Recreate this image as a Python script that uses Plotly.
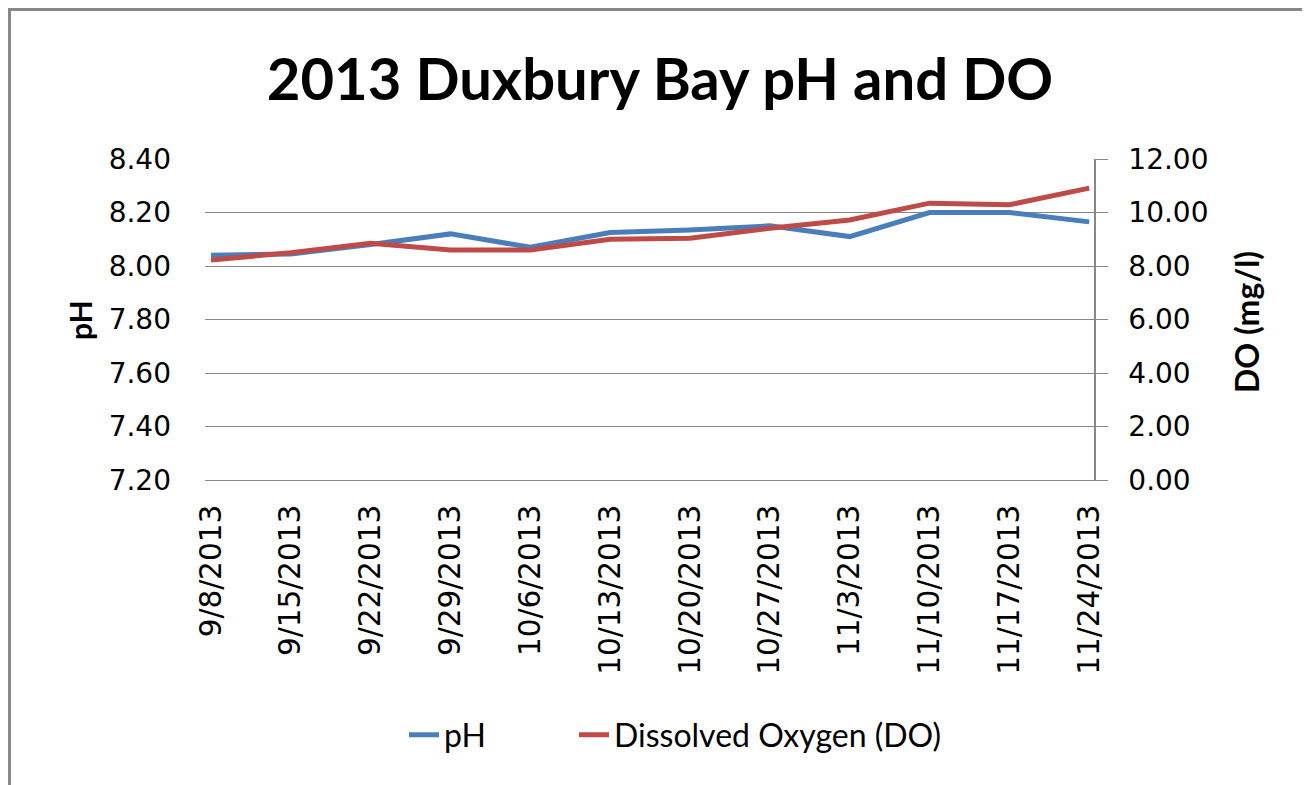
import plotly.graph_objects as go

dates = ["9/8/2013", "9/15/2013", "9/22/2013", "9/29/2013", "10/6/2013", "10/13/2013",
         "10/20/2013", "10/27/2013", "11/3/2013", "11/10/2013", "11/17/2013", "11/24/2013"]
ph_values = [8.04, 8.045, 8.08, 8.12, 8.07, 8.125, 8.135, 8.15, 8.11, 8.20, 8.20, 8.165]
do_values = [8.22, 8.50, 8.85, 8.60, 8.60, 9.00, 9.04, 9.41, 9.72, 10.35, 10.29, 10.91]

title_text = "2013 Duxbury Bay pH and DO"
ph_ticks = [7.2, 7.4, 7.6, 7.8, 8.0, 8.2, 8.4]
do_ticks = [0, 2, 4, 6, 8, 10, 12]

OFF = 8  # browser body margin
W, H = 1302, 777
L, R, T, B = 197, 216, 151, 305
pw, ph_ = W - L - R, H - T - B

def px(x):  # screen px -> paper
    return (x - OFF - L) / pw

def py(y):
    return (H - B - (y - OFF)) / ph_

grid = "#878787"
tickfont = dict(family="DejaVu Sans", size=28, color="#000000")
xtickfont = dict(family="DejaVu Sans", size=29.5, color="#000000")
legfont = dict(family="Lato", size=32, color="#000000")

fig = go.Figure()
fig.add_trace(go.Scatter(x=dates, y=ph_values, name="pH", mode="lines",
                         line=dict(color="#4A7EBB", width=5), legend="legend"))
fig.add_trace(go.Scatter(x=dates, y=do_values, name="Dissolved Oxygen (DO)", mode="lines",
                         line=dict(color="#BE4B48", width=5), yaxis="y2", legend="legend2"))

fig.update_layout(
    width=W, height=H,
    margin=dict(l=L, r=R, t=T, b=B),
    paper_bgcolor="white", plot_bgcolor="white",
    title=dict(text="<b>" + title_text + "</b>", x=(660 - OFF) / W, xanchor="center",
               y=1 - (80 - OFF) / H, yanchor="middle", yref="container",
               font=dict(family="Lato", size=58, color="#000000")),
    xaxis=dict(type="category", range=[-0.075, 11.06], tickangle=-90,
               tickfont=xtickfont, showgrid=False, showline=True, linecolor=grid,
               linewidth=1, ticks="", ticklabelstandoff=12, zeroline=False),
    yaxis=dict(range=[7.2, 8.4], tickvals=ph_ticks, tickformat=".2f",
               tickfont=tickfont, showgrid=True, gridcolor=grid, gridwidth=1,
               showline=False, ticks="", ticklabelstandoff=33, zeroline=False),
    yaxis2=dict(range=[0, 12], tickvals=do_ticks, tickformat=".2f", overlaying="y",
                side="right", tickfont=tickfont, showgrid=False, showline=True,
                linecolor=grid, linewidth=1.5, ticks="outside", ticklen=12,
                tickcolor=grid, ticklabelstandoff=15, zeroline=False),
    legend=dict(orientation="h", x=px(404), xanchor="left", y=py(735), yanchor="middle",
                font=legfont, bgcolor="rgba(0,0,0,0)"),
    legend2=dict(orientation="h", x=px(574), xanchor="left", y=py(735), yanchor="middle",
                 font=legfont, bgcolor="rgba(0,0,0,0)"),
    showlegend=True,
)

fig.add_annotation(text="<b>pH</b>", textangle=-90, xref="paper", yref="paper",
                   x=px(80), y=py(320), showarrow=False, xanchor="center", yanchor="middle",
                   font=dict(family="Lato", size=30, color="#000000"))
fig.add_annotation(text="<b>DO (mg/l)</b>", textangle=-90, xref="paper", yref="paper",
                   x=px(1246), y=py(322), showarrow=False, xanchor="center", yanchor="middle",
                   font=dict(family="Lato", size=32, color="#000000"))

# chart frame (figure pixels -> paper)
fx0, fx1, fy_top, fy_bot = 1.5, 1300.5, 1.5, 800
fig.add_shape(type="rect", xref="paper", yref="paper",
              x0=(fx0 - L) / pw, x1=(fx1 - L) / pw,
              y0=(H - B - fy_bot) / ph_, y1=(H - B - fy_top) / ph_,
              line=dict(color="#888888", width=3), fillcolor="rgba(0,0,0,0)", layer="below")

fig.write_html("out.html")
